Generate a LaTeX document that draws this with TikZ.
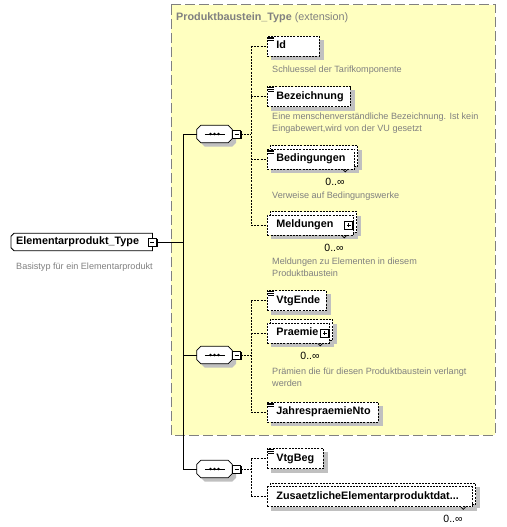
\documentclass[tikz,border=0pt]{standalone}
\usepackage{fontspec}
\setmainfont{Liberation Sans}
\definecolor{xsdext}  {RGB}{255,255,192}
\definecolor{xsdgray} {RGB}{128,128,128}
\definecolor{xsdshade}{RGB}{192,192,192}
\newcommand{\elemfont}{\fontsize{10.8}{12}\selectfont\bfseries}
\newcommand{\docfont}{\fontsize{9.1}{12}\selectfont}
\newcommand{\occfont}{\fontsize{10.5}{12}\selectfont}
\pgfdeclarelayer{frame}
\pgfdeclarelayer{shade}
\pgfsetlayers{frame,shade,main}
\tikzset{ext box/.style={
    fill=xsdext, draw=xsdgray, line width=1pt,
    dash pattern=on 10pt off 4pt
}}
\tikzset{ext title/.style={
    anchor=west, inner sep=0pt,
    text=xsdgray, font=\elemfont
}}
\tikzset{element/.style={
    rectangle, draw=black, fill=white, line width=0.8pt,
    dash pattern=on 2pt off 1.2pt,
    minimum height=20pt, inner xsep=0pt, inner ysep=0pt,
    text width=#1, align=left, anchor=west,
    text height=8pt, text depth=2.5pt, font=\elemfont,
    execute at begin node={\hspace*{9pt}}
}}
\tikzset{back copy/.style={
    draw=black, fill=white, line width=0.8pt,
    dash pattern=on 2pt off 1.2pt
}}
\tikzset{simple mark/.style={line width=0.7pt}}
\tikzset{doc/.style={
    anchor=west, inner sep=0pt, align=left,
    text=xsdgray, font=\docfont
}}
\tikzset{occurs/.style={
    anchor=east, inner sep=0pt, font=\occfont
}}
% octagon drawn round an empty node
\tikzset{sequence/.style={
    rectangle, minimum width=35pt, minimum height=17pt, inner sep=0pt,
    append after command={
      \pgfextra{
        \draw [fill=white, line width=0.8pt,
               preaction={fill=xsdshade, draw=none,
                 transform canvas={shift={(4pt,-4pt)}}}]
          ([xshift=4pt]\tikzlastnode.north west) -- ([xshift=-4pt]\tikzlastnode.north east)
          -- ([yshift=-4pt]\tikzlastnode.north east) -- ([yshift=4pt]\tikzlastnode.south east)
          -- ([xshift=-4pt]\tikzlastnode.south east) -- ([xshift=4pt]\tikzlastnode.south west)
          -- ([yshift=4pt]\tikzlastnode.south west) -- ([yshift=-4pt]\tikzlastnode.north west)
          -- cycle;
        \draw [line width=0.8pt] ([xshift=8pt]\tikzlastnode.west)
          -- ([xshift=-7pt]\tikzlastnode.east);
        \fill ([xshift=-4pt]\tikzlastnode.center) circle (1.3pt)
              (\tikzlastnode.center) circle (1.3pt)
              ([xshift=4pt]\tikzlastnode.center) circle (1.3pt);
      }
    }
}}
\tikzset{toggle/.style={
    rectangle, minimum size=8pt, inner sep=0pt, outer sep=0pt
}}
\tikzset{toggle mark/.style={line width=0.8pt}}
% left corners cut off
\tikzset{root type/.style={
    rectangle, minimum height=17pt, inner xsep=0pt, inner ysep=0pt,
    text width=141pt, align=left, anchor=west,
    text height=8pt, text depth=2.5pt, font=\elemfont,
    execute at begin node={\hspace*{5pt}},
    append after command={
      \pgfextra{
        \draw [line width=0.8pt]
          ([xshift=3pt]\tikzlastnode.north west) -- (\tikzlastnode.north east)
          -- (\tikzlastnode.south east) -- ([xshift=3pt]\tikzlastnode.south west)
          -- ([yshift=3pt]\tikzlastnode.south west) -- ([yshift=-3pt]\tikzlastnode.north west)
          -- cycle;
      }
    }
}}
\tikzset{tree line/.style={draw=black, line width=1pt}}
\tikzset{child line/.style={draw=black, line width=0.8pt, dash pattern=on 2pt off 1.2pt}}

\begin{document}
\begin{tikzpicture}[x=1pt, y=-1pt]
  \useasboundingbox (0,0) rectangle (506,527);

  % extension frame
  \begin{pgfonlayer}{frame}
    \path [ext box] (171,5) rectangle (495,435);
  \end{pgfonlayer}
  \node (title) [ext title] at (176,18) {Produktbaustein\_Type \mdseries(extension)};

  % root type
  \node (root)   [root type] at (11,242) {Elementarprodukt\_Type};
  \node (root-m) [toggle]    at (root.east) {};
  \node (root-d) [doc]       at (16,267) {Basistyp für ein Elementarprodukt};

  % sequences
  \node (s1) [sequence] at (214.5,134) {};
  \node (s2) [sequence] at (214.5,355) {};
  \node (s3) [sequence] at (214.5,469) {};
  \foreach \s in {s1,s2,s3}
    \node (\s-m) [toggle, anchor=west] at ([xshift=0.5pt]\s.east) {};

  % elements
  \node (id)   [element=52pt]  at (267,46)    {Id};
  \node (bez)  [element=83pt]  at (267,96.5)  {Bezeichnung};
  \node (bed)  [element=87pt]  at (267,159)   {Bedingungen};
  \node (meld) [element=86pt]  at (267,225)   {Meldungen};
  \node (ende) [element=59pt]  at (267,300.5) {VtgEnde};
  \node (prae) [element=62pt]  at (267,333)   {Praemie};
  \node (jahr) [element=111pt] at (267,412)   {JahrespraemieNto};
  \node (beg)  [element=56pt]  at (267,458.5) {VtgBeg};
  \node (zus)  [element=205pt] at (267,496.5) {ZusaetzlicheElementarproduktdat...};

  \node (meld-p) [toggle] at ([xshift=-5pt]meld.east) {};
  \node (prae-p) [toggle] at ([xshift=-5pt]prae.east) {};

  % shadows and stacked copies
  \begin{pgfonlayer}{shade}
    \foreach \e in {bed,meld,prae,zus}
      \fill [xsdshade] ([shift={(7pt,-1pt)}]\e.south west) rectangle ([shift={(7pt,-1pt)}]\e.north east);
    \foreach \e in {id,bez,bed,meld,ende,prae,jahr,beg,zus}
      \fill [xsdshade] ([shift={(4pt,-4pt)}]\e.south west) rectangle ([shift={(4pt,-4pt)}]\e.north east);
    \foreach \e in {bed,meld,prae,zus}
      \draw [back copy] ([shift={(3pt,3pt)}]\e.south west) rectangle ([shift={(3pt,3pt)}]\e.north east);
  \end{pgfonlayer}

  % simple content marks
  \foreach \e in {id,bez,bed,ende,jahr,beg}
    \draw [simple mark]
      ([shift={(1.4pt,-1.4pt)}]\e.north west) -- ++(6pt,0)
      ([shift={(1.4pt,-3.2pt)}]\e.north west) -- ++(6pt,0)
      ([shift={(1.4pt,-5pt)}]\e.north west) -- ++(6pt,0);

  % expand / collapse boxes
  \foreach \t in {root-m,s1-m,s2-m,s3-m,meld-p,prae-p} {
    \fill ([shift={(1.2pt,-1.2pt)}]\t.south west) rectangle ([shift={(1.2pt,-1.2pt)}]\t.north east);
    \draw [toggle mark, fill=white] (\t.south west) rectangle (\t.north east);
    \draw [toggle mark] ([xshift=2pt]\t.west) -- ([xshift=-2pt]\t.east);
  }
  \foreach \t in {meld-p,prae-p}
    \draw [toggle mark] ([yshift=-2pt]\t.north) -- ([yshift=2pt]\t.south);

  % occurrences
  \foreach \e in {bed,meld,prae,zus} {
    \draw [line width=0.7pt] ([xshift=-12pt]\e.south east) -- ++(2.5,2.5) -- ++(2.5,-2.5);
    \node (\e-occ) [occurs] at ([xshift=-10pt, yshift=-12pt]\e.south east) {0..∞};
  }

  % documentation
  \node (id-d)   [doc] at (272,70)    {Schluessel der Tarifkomponente};
  \node (bez-d)  [doc] at (272,123)   {Eine menschenverständliche Bezeichnung. Ist kein\\Eingabewert,wird von der VU gesetzt};
  \node (bed-d)  [doc] at (272,196)   {Verweise auf Bedingungswerke};
  \node (meld-d) [doc] at (272,267.5) {Meldungen zu Elementen in diesem\\Produktbaustein};
  \node (prae-d) [doc] at (272,377)   {Prämien die für diesen Produktbaustein verlangt\\werden};

  % connectors
  \coordinate (trunk) at (183,242);
  \coordinate (fork1) at (251,134);
  \coordinate (fork2) at (251,355);
  \coordinate (fork3) at (251,469);

  \path [tree line]
    (root-m.east) edge (trunk)
    (trunk |- s1.west) edge (trunk |- s3.west)
    (trunk |- s1.west) edge (s1.west)
    (trunk |- s2.west) edge (s2.west)
    (trunk |- s3.west) edge (s3.west)
    ;

  \path [child line]
    (s1-m.east) edge (fork1)
    (fork1 |- id.west) edge (fork1 |- meld.west)
    (fork1 |- id.west) edge (id.west)
    (fork1 |- bez.west) edge (bez.west)
    (fork1 |- bed.west) edge (bed.west)
    (fork1 |- meld.west) edge (meld.west)
    (s2-m.east) edge (fork2)
    (fork2 |- ende.west) edge (fork2 |- jahr.west)
    (fork2 |- ende.west) edge (ende.west)
    (fork2 |- prae.west) edge (prae.west)
    (fork2 |- jahr.west) edge (jahr.west)
    (s3-m.east) edge (fork3)
    (fork3 |- beg.west) edge (fork3 |- zus.west)
    (fork3 |- beg.west) edge (beg.west)
    (fork3 |- zus.west) edge (zus.west)
    ;
\end{tikzpicture}
\end{document}
